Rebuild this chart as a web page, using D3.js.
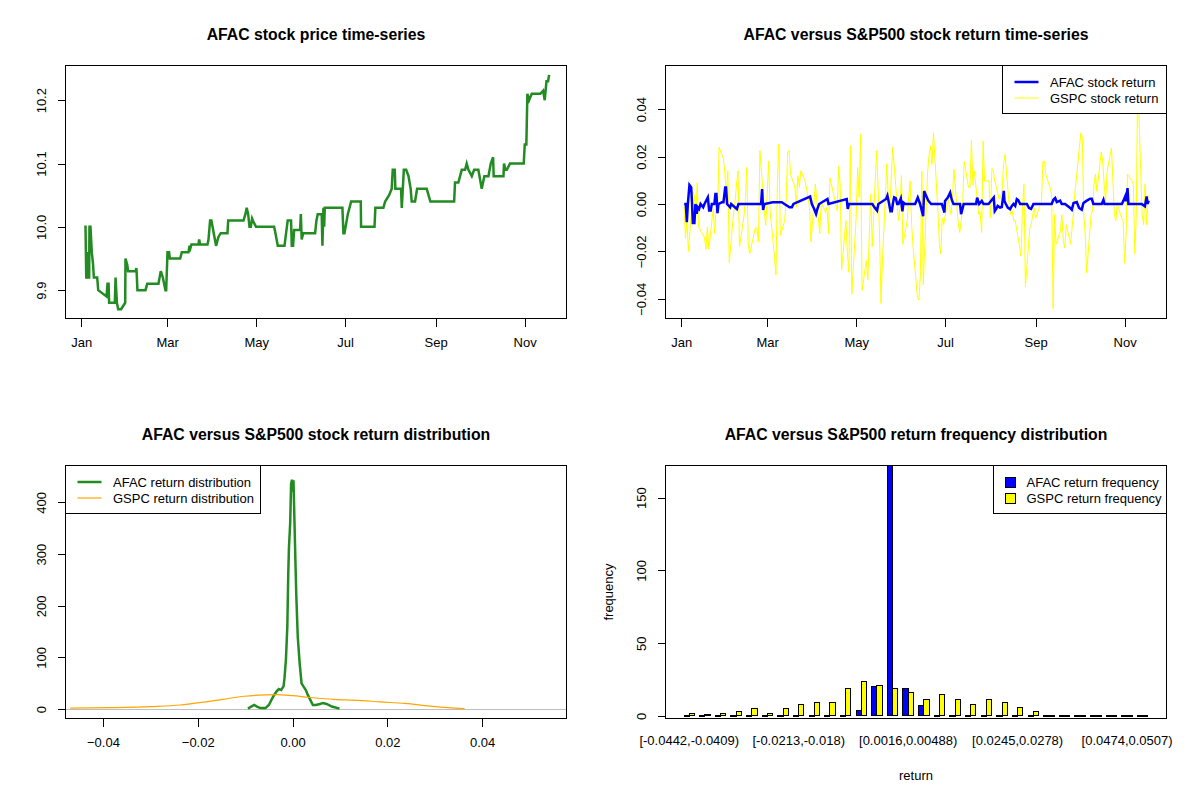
<!DOCTYPE html>
<html>
<head>
  <meta charset="utf-8">
  <script src="https://d3js.org/d3.v7.min.js"></script>
  <style>
    body { margin: 0; background: #ffffff; }
    svg text { font-family: "Liberation Sans", Arial, sans-serif; fill: #000; }
  </style>
</head>
<body>
<script>
"use strict";

// trading calendar used by the two time-series panels
var firstDay = "2017-01-03",
    lastDay = "2017-11-17",
    holidays = ["2017-01-16", "2017-02-20", "2017-04-14", "2017-05-29", "2017-07-04", "2017-09-04"];

// AFAC close price, corners of the line: [day of year (0 = 1 Jan), price]
var afacPrice = [
  [2.1, 10.00], [3.0, 10.00], [3.5, 9.92], [4.1, 9.92], [4.6, 9.96], [5.1, 9.92], [5.5, 9.92], [5.7, 10.00],
  [6.4, 10.00], [7.3, 9.96], [8.2, 9.94], [8.7, 9.92], [11.0, 9.92], [11.7, 9.90], [17.4, 9.89], [18.1, 9.91],
  [18.8, 9.91], [19.2, 9.88], [23.1, 9.88], [23.6, 9.92], [24.5, 9.88], [25.4, 9.87], [27.4, 9.87], [30.2, 9.88],
  [30.4, 9.95], [31.6, 9.94], [32.2, 9.93], [37.3, 9.93], [37.9, 9.935], [38.6, 9.90], [44.1, 9.90], [45.3, 9.91],
  [53.0, 9.91], [54.6, 9.93], [56.0, 9.92], [57.8, 9.90], [58.3, 9.90], [59.2, 9.96], [60.3, 9.96], [60.8, 9.95],
  [67.9, 9.95], [69.0, 9.96], [73.6, 9.96], [74.3, 9.97], [74.9, 9.966], [75.6, 9.972], [80.4, 9.972], [80.9, 9.98],
  [81.6, 9.972], [86.6, 9.972], [87.3, 9.98], [88.4, 10.01], [89.3, 10.01], [90.9, 9.99], [92.5, 9.97], [94.1, 9.984],
  [95.7, 9.99], [100.3, 9.99], [100.8, 10.01], [111.3, 10.01], [112.6, 10.02], [113.5, 10.03], [114.5, 10.02],
  [115.4, 10.00], [116.3, 10.00], [117.2, 10.013], [118.1, 10.008], [119.9, 10.00], [132.3, 10.00], [133.2, 9.99],
  [134.8, 9.97], [139.4, 9.97], [140.5, 9.99], [141.6, 10.01], [143.9, 10.01], [144.4, 9.97], [145.3, 9.97],
  [146.0, 9.995], [150.1, 9.995], [150.6, 10.02], [151.2, 9.98], [152.2, 9.99], [160.4, 9.99], [161.3, 10.01],
  [162.2, 10.02], [164.9, 10.02], [165.4, 9.97], [166.1, 10.03], [166.6, 10.00], [167.0, 10.03], [179.1, 10.03],
  [179.8, 9.99], [180.5, 9.99], [182.8, 10.02], [185.1, 10.04], [191.7, 10.04], [191.9, 10.00], [201.1, 10.00],
  [201.7, 10.03], [207.2, 10.03], [208.4, 10.04], [211.1, 10.05], [212.9, 10.06], [213.6, 10.09], [215.0, 10.09],
  [215.4, 10.06], [219.3, 10.06], [219.8, 10.03], [221.2, 10.09], [222.8, 10.09], [224.4, 10.08], [225.9, 10.06],
  [226.6, 10.04], [228.9, 10.04], [230.3, 10.06], [236.9, 10.06], [239.4, 10.04], [255.7, 10.04], [256.3, 10.07],
  [258.6, 10.07], [260.9, 10.09], [263.2, 10.09], [264.3, 10.10], [265.5, 10.09], [267.8, 10.08], [269.4, 10.09],
  [272.3, 10.09], [274.6, 10.06], [276.4, 10.08], [279.2, 10.08], [280.8, 10.10], [282.4, 10.11], [282.8, 10.08],
  [289.5, 10.08], [289.9, 10.10], [290.8, 10.09], [291.8, 10.09], [294.0, 10.10], [303.4, 10.10], [304.1, 10.13],
  [305.2, 10.13], [305.9, 10.21], [307.1, 10.20], [308.9, 10.21], [314.8, 10.21], [316.7, 10.215], [317.8, 10.20],
  [319.0, 10.23], [320.1, 10.23], [320.8, 10.24]
];

// AFAC daily return, corners of the line: [day of year, return]
var afacReturn = [
  [2.1, 0], [3.2, 0], [3.9, -0.0077], [4.6, 0], [5.7, 0.008], [6.9, 0.007], [7.5, 0], [8.0, -0.008], [9.1, -0.008],
  [9.8, 0], [10.7, -0.0042], [11.4, -0.0014], [12.3, -0.0021], [13.3, 0], [15.1, -0.0014], [16.0, 0], [18.3, 0.0028],
  [19.2, -0.0028], [20.3, -0.0028], [21.0, 0], [22.8, 0], [23.5, 0.0042], [24.2, 0.0042], [24.9, -0.0039], [25.6, 0],
  [27.9, 0.0007], [29.0, 0.0007], [30.2, 0.007], [30.8, 0.007], [31.5, 0], [33.6, -0.0014], [34.3, 0],
  [38.2, -0.0021], [39.3, 0], [54.8, 0], [55.5, 0.0063], [56.2, -0.0025], [57.1, 0], [62.8, 0.0007], [69.0, 0.0007],
  [70.8, 0], [74.3, -0.0014], [75.9, -0.0014], [77.0, 0], [88.4, 0.0031], [89.6, 0], [91.2, -0.0021],
  [92.5, -0.0042], [93.4, -0.0021], [94.6, 0], [100.3, 0.0021], [101.0, 0], [113.5, 0.0021], [114.2, -0.0021],
  [115.1, 0], [131.1, 0], [132.5, -0.0014], [134.3, -0.0028], [135.2, 0], [140.5, 0.0021], [141.4, 0.0035],
  [142.6, 0], [143.5, -0.0031], [144.4, -0.0031], [145.1, 0], [146.0, 0.0028], [147.1, 0.0025], [148.1, 0],
  [149.0, 0], [150.6, 0.0024], [151.7, -0.0031], [152.4, 0.0006], [153.6, 0], [160.4, 0], [162.2, 0.0027],
  [163.8, 0], [165.9, -0.0052], [166.6, 0.0055], [167.5, 0.0041], [169.5, 0.0013], [171.4, 0], [178.7, 0],
  [179.8, -0.0022], [180.5, -0.0036], [180.9, 0.0013], [182.8, 0.0027], [184.4, 0.0048], [185.5, 0.0018],
  [186.7, 0], [191.2, 0], [191.9, -0.0043], [192.8, -0.0022], [193.7, 0], [202.2, 0], [202.9, 0.0027], [204.3, 0],
  [206.1, 0.0013], [207.3, 0], [210.7, 0], [214.3, 0.0027], [215.0, -0.003], [215.9, -0.0022], [217.0, -0.0008],
  [218.6, -0.0015], [219.8, -0.0013], [221.2, 0.0055], [221.6, 0.0013], [222.6, 0], [223.9, -0.0015],
  [225.5, -0.0022], [226.7, -0.0008], [227.8, 0], [229.0, -0.0008], [230.1, 0.002], [231.2, 0.0015], [232.4, 0],
  [237.0, 0], [238.5, -0.0017], [239.9, -0.0021], [241.5, 0], [254.0, 0], [255.2, 0.0018], [256.4, 0.0025],
  [257.5, 0.0008], [259.8, 0.0014], [260.9, 0], [263.2, 0], [266.7, -0.0017], [267.8, -0.0024], [269.0, 0.0004],
  [271.2, 0.0008], [272.8, -0.0017], [274.6, -0.0024], [275.8, 0.0004], [278.1, 0.0014], [280.4, 0.0022],
  [281.5, 0.0022], [282.6, 0], [288.3, 0], [289.5, 0.0018], [290.2, 0], [302.1, 0], [303.2, 0.0014],
  [304.4, 0.0032], [305.0, 0.0011], [306.0, 0.0067], [306.6, 0], [315.7, 0], [317.9, -0.001], [319.1, 0.0032],
  [319.8, 0], [320.5, 0.0014]
];

// GSPC daily return, one value per trading day
var gspcReturn = [
  // Jan
  0.000, -0.0147, -0.007, -0.020, 0.005, 0.004, -0.0056, 0.009, -0.0098, -0.014, -0.019, -0.0098, -0.019, -0.002,
  -0.0126, -0.0007, -0.004, 0.024, 0.019, 0.0126,
  // Feb
  0.004, 0.014, -0.0246, -0.0035, 0.0014, 0.0084, 0.014, -0.018, -0.0056, 0.0014, 0.0154, -0.0168, -0.021, -0.0098,
  -0.011, -0.016, 0.0225, -0.0028, -0.009,
  // Mar
  0.004, 0.018, -0.0028, -0.0225, -0.030, 0.0098, 0.0253, -0.0133, -0.007, 0.0014, 0.0218, 0.0225, 0.0126, 0.007,
  -0.0014, 0.012, 0.007, 0.014, 0.0098, 0.0063, 0.0028, -0.0014, -0.016,
  // Apr
  0.0084, 0.0014, -0.0056, -0.0126, 0.0007, -0.0035, -0.0014, -0.0126, 0.011, 0.000, -0.0028, 0.016, 0.0084, -0.028,
  -0.007, -0.021, -0.0288, 0.0246, -0.038,
  // May
  -0.0056, 0.0154, 0.0028, 0.0295, -0.0365, -0.0239, -0.032, -0.0126, 0.0042, -0.018, 0.0225, 0.007, -0.0126, -0.042,
  -0.0239, 0.017, 0.002, -0.004, 0.011, 0.024, -0.007, -0.002,
  // Jun
  0.012, -0.017, -0.007, 0.003, 0.0097, -0.0086, -0.018, -0.0394, -0.0405, -0.030, 0.0139, -0.034, 0.0139, 0.021,
  0.0244, 0.0167, 0.030, -0.003, -0.0163, -0.021, -0.006, -0.0086,
  // Jul
  0.002, -0.0044, 0.0027, 0.0146, -0.0086, -0.012, -0.007, 0.000, 0.018, 0.007, 0.007, 0.027, 0.008, 0.0139, -0.0044,
  -0.0036, -0.012, 0.0265, 0.0097, 0.0097,
  // Aug
  -0.0058, 0.015, 0.0139, 0.0097, 0.002, 0.0027, 0.0055, 0.0167, 0.021, -0.0015, -0.0044, -0.003, -0.007, -0.007,
  -0.018, -0.022, -0.0015, 0.0083, -0.035, -0.010, -0.0087, -0.0045, -0.0017,
  // Sep
  -0.006, 0.001, 0.018, 0.018, 0.0123, 0.0067, 0.004, -0.0442, -0.0045, -0.017, -0.0114, -0.0045, -0.0157, -0.0185,
  -0.0087, -0.017, -0.010, -0.003, 0.0053, 0.011,
  // Oct
  0.030, 0.028, -0.0045, -0.013, -0.029, -0.0045, -0.003, 0.0083, 0.0125, 0.0053, 0.022, 0.018, 0.0083, 0.001, 0.0139,
  0.0237, 0.0095, -0.0045, -0.007, 0.000, -0.006, -0.007,
  // Nov
  -0.025, -0.013, 0.0125, 0.0097, 0.0083, -0.021, -0.0045, 0.054, -0.0045, -0.0087, 0.0083, -0.0087, 0.004
];

// kernel density estimates: [return, density]
var afacDensity = [
  [-0.0094, 1], [-0.0087, 5], [-0.0081, 8], [-0.0075, 5], [-0.0068, 2], [-0.0057, 2], [-0.005, 8], [-0.0041, 24],
  [-0.0034, 34], [-0.0029, 39], [-0.0024, 37], [-0.0019, 44], [-0.0017, 60], [-0.0014, 95], [-0.0011, 160],
  [-0.0009, 263], [-0.00075, 314], [-0.0005, 359], [-0.0003, 437], [-0.0001, 444], [0.0001, 421], [0.0002, 443],
  [0.0004, 366], [0.0006, 289], [0.0008, 218], [0.0011, 140], [0.0015, 89], [0.0019, 50], [0.0023, 44],
  [0.0028, 37], [0.0032, 28], [0.0038, 17], [0.0043, 8], [0.0049, 8], [0.0058, 10], [0.0064, 12], [0.0072, 10],
  [0.0083, 5], [0.0099, 1]
];
var gspcDensity = [
  [-0.0469, 2], [-0.038, 3], [-0.0298, 5], [-0.0237, 8], [-0.0192, 13], [-0.0147, 19], [-0.0102, 25],
  [-0.0072, 27], [-0.0034, 28], [0.0, 26], [0.0034, 23], [0.0087, 19], [0.0139, 17], [0.0185, 14], [0.0237, 11],
  [0.029, 6], [0.0328, 3], [0.0363, 1]
];

// return frequency per bin (30 bins)
var afacFreq = [0, 0, 0, 0, 0, 0, 0, 0, 0, 0, 0, 4, 20, 172, 19, 7, 0, 0, 0, 0, 0, 0, 0, 0, 0, 0, 0, 0, 0, 0];
var gspcFreq = [2, 1, 2, 3, 5, 2, 5, 8, 9, 9, 19, 24, 21, 19, 16, 11, 15, 11, 8, 11, 9, 6, 3, 0, 0, 0, 0, 0, 0, 0];
var binTickIndex = [0, 7, 14, 21, 28];
var binTickLabels = ["[-0.0442,-0.0409)", "[-0.0213,-0.018)", "[0.0016,0.00488)", "[0.0245,0.0278)", "[0.0474,0.0507)"];

var titles = ["AFAC stock price time-series",
              "AFAC versus S&P500 stock return time-series",
              "AFAC versus S&P500 stock return distribution",
              "AFAC versus S&P500 return frequency distribution"];

/*
  layout: 2 x 2 panels of 600 x 400, same plot box in each
*/
var box = { left: 65.5, right: 566.5, top: 65.5, bottom: 318.5 };
var colors = { price: "#228b22", afac: "#0000ff", gspc: "#ffff00", orange: "#ffa500", zero: "#bebebe" };

var svg = d3.select("body").append("svg")
    .attr("width", 1200)
    .attr("height", 800);

function panel(col, row, title) {
  var g = svg.append("g")
      .attr("transform", "translate(" + col * 600 + "," + row * 400 + ")");
  g.append("text")
      .attr("x", (box.left + box.right) / 2)
      .attr("y", 40)
      .attr("text-anchor", "middle")
      .style("font-size", "15.8px")
      .style("font-weight", "bold")
      .text(title);
  return g;
}

function frame(g) {
  g.append("rect")
      .attr("x", box.left).attr("y", box.top)
      .attr("width", box.right - box.left).attr("height", box.bottom - box.top)
      .attr("fill", "none").attr("stroke", "#000").attr("stroke-width", 1)
      .attr("shape-rendering", "crispEdges");
}

function styleAxis(a) {
  a.attr("font-size", 13).attr("font-family", null);
  a.select(".domain").remove();
  a.selectAll(".tick line").attr("shape-rendering", "crispEdges");
}

function bottomAxis(g, axis) {
  var a = g.append("g")
      .attr("transform", "translate(0," + box.bottom + ")")
      .call(axis.tickSize(8).tickSizeOuter(0).tickPadding(11));
  styleAxis(a);
}

function leftAxis(g, axis) {
  var a = g.append("g")
      .attr("transform", "translate(" + box.left + ",0)")
      .call(axis.tickSize(8).tickSizeOuter(0));
  styleAxis(a);
  // R draws y labels parallel to the axis
  a.selectAll(".tick text")
      .attr("x", null).attr("dy", null)
      .attr("text-anchor", "middle")
      .attr("transform", "translate(-20,0) rotate(-90)");
}

// legend box hanging from the top of the plot box, from x0 to x1
function legend(g, x0, x1, rows) {
  var lg = g.append("g");
  lg.append("rect")
      .attr("x", x0).attr("y", box.top)
      .attr("width", x1 - x0).attr("height", 48)
      .attr("fill", "#fff").attr("stroke", "#000")
      .attr("shape-rendering", "crispEdges");
  rows.forEach(function (r, i) {
    var cy = box.top + 16.5 + i * 16;
    if (r.fill) {
      lg.append("rect")
          .attr("x", x0 + 12).attr("y", cy - 4.5).attr("width", 10).attr("height", 9.5)
          .attr("fill", r.fill).attr("stroke", "#000")
          .attr("shape-rendering", "crispEdges");
    } else {
      lg.append("line")
          .attr("x1", x0 + 12).attr("x2", x0 + 36).attr("y1", cy).attr("y2", cy)
          .attr("stroke", r.stroke).attr("stroke-width", r.width);
    }
    lg.append("text")
        .attr("x", x0 + (r.fill ? 33 : 47.5))
        .attr("y", cy + 4.6)
        .style("font-size", "13px")
        .text(r.label);
  });
}

// calendar helpers
var parseDay = d3.utcParse("%Y-%m-%d"),
    fmtDay = d3.utcFormat("%Y-%m-%d"),
    yearStart = Date.UTC(2017, 0, 1);
function dayToDate(d) { return new Date(yearStart + d * 864e5); }

var tradingDays = d3.utcDays(parseDay(firstDay), d3.utcDay.offset(parseDay(lastDay), 1))
    .filter(function (d) {
      var w = d.getUTCDay();
      return w !== 0 && w !== 6 && holidays.indexOf(fmtDay(d)) < 0;
    });
var gspcSeries = gspcReturn.slice(0, tradingDays.length).map(function (v, i) {
  return { date: tradingDays[i], value: v };
});

var t0 = tradingDays[0], t1 = tradingDays[tradingDays.length - 1], pad = 0.04 * (t1 - t0);
var xTime = d3.scaleUtc()
    .domain([new Date(+t0 - pad), new Date(+t1 + pad)])
    .range([box.left, box.right]);
var monthTicks = d3.utcMonth.every(2).range(xTime.domain()[0], xTime.domain()[1]);

/*
  panel 1: price
*/
var p1 = panel(0, 0, titles[0]);
var yPrice = d3.scaleLinear().domain([9.8552, 10.2548]).range([box.bottom, box.top]);
p1.append("path")
    .datum(afacPrice)
    .attr("fill", "none")
    .attr("stroke", colors.price)
    .attr("stroke-width", 2.5)
    .attr("d", d3.line()
        .x(function (d) { return xTime(dayToDate(d[0])); })
        .y(function (d) { return yPrice(d[1]); }));
frame(p1);
bottomAxis(p1, d3.axisBottom(xTime).tickValues(monthTicks).tickFormat(d3.utcFormat("%b")));
leftAxis(p1, d3.axisLeft(yPrice).ticks(4).tickFormat(d3.format(".1f")));

/*
  panel 2: returns
*/
var p2 = panel(1, 0, titles[1]);
var yRet = d3.scaleLinear().domain([-0.0483, 0.0584]).range([box.bottom, box.top]);
p2.append("path")
    .datum(gspcSeries)
    .attr("fill", "none")
    .attr("stroke", colors.gspc)
    .attr("stroke-width", 1)
    .attr("d", d3.line()
        .x(function (d) { return xTime(d.date); })
        .y(function (d) { return yRet(d.value); }));
p2.append("path")
    .datum(afacReturn)
    .attr("fill", "none")
    .attr("stroke", colors.afac)
    .attr("stroke-width", 2.5)
    .attr("d", d3.line()
        .x(function (d) { return xTime(dayToDate(d[0])); })
        .y(function (d) { return yRet(d[1]); }));
frame(p2);
bottomAxis(p2, d3.axisBottom(xTime).tickValues(monthTicks).tickFormat(d3.utcFormat("%b")));
leftAxis(p2, d3.axisLeft(yRet).ticks(5).tickFormat(d3.format(".2f")));
legend(p2, 402.5, box.right, [
  { label: "AFAC stock return", stroke: colors.afac, width: 2.5 },
  { label: "GSPC stock return", stroke: colors.gspc, width: 1 }
]);

/*
  panel 3: densities
*/
var p3 = panel(0, 1, titles[2]);
var xDens = d3.scaleLinear().domain([-0.0479, 0.0578]).range([box.left, box.right]);
var yDens = d3.scaleLinear().domain([-18.1, 471.5]).range([box.bottom, box.top]);
p3.append("line")
    .attr("x1", box.left).attr("x2", box.right)
    .attr("y1", yDens(0)).attr("y2", yDens(0))
    .attr("stroke", colors.zero).attr("stroke-width", 1)
    .attr("shape-rendering", "crispEdges");
p3.append("path")
    .datum(afacDensity)
    .attr("fill", "none")
    .attr("stroke", colors.price)
    .attr("stroke-width", 2.5)
    .attr("d", d3.line()
        .x(function (d) { return xDens(d[0]); })
        .y(function (d) { return yDens(d[1]); }));
p3.append("path")
    .datum(gspcDensity)
    .attr("fill", "none")
    .attr("stroke", colors.orange)
    .attr("stroke-width", 1.2)
    .attr("d", d3.line()
        .curve(d3.curveMonotoneX)
        .x(function (d) { return xDens(d[0]); })
        .y(function (d) { return yDens(d[1]); }));
frame(p3);
bottomAxis(p3, d3.axisBottom(xDens).ticks(5).tickFormat(d3.format(".2f")));
leftAxis(p3, d3.axisLeft(yDens).ticks(5).tickFormat(d3.format("d")));
legend(p3, box.left, 260.5, [
  { label: "AFAC return distribution", stroke: colors.price, width: 2.5 },
  { label: "GSPC return distribution", stroke: colors.orange, width: 1.2 }
]);

/*
  panel 4: grouped histogram
*/
var p4 = panel(1, 1, titles[3]);
var nBins = afacFreq.length;
// bars of width 1, group gap 1, R style 4% padding
var barMin = 1, barMax = 3 * nBins, barPad = 0.04 * (barMax - barMin);
var xBar = d3.scaleLinear().domain([barMin - barPad, barMax + barPad]).range([box.left, box.right]);
var yFreq = d3.scaleLinear().domain([-1.72, 172]).range([box.bottom, box.top]);

var bars = [];
afacFreq.forEach(function (v, k) { bars.push({ x: 1 + 3 * k, v: v, fill: colors.afac }); });
gspcFreq.forEach(function (v, k) { bars.push({ x: 2 + 3 * k, v: v, fill: colors.gspc }); });

p4.append("g").selectAll("rect")
    .data(bars)
    .enter()
    .append("rect")
    .attr("x", function (d) { return xBar(d.x); })
    .attr("width", function (d) { return xBar(d.x + 1) - xBar(d.x); })
    .attr("y", function (d) { return yFreq(d.v); })
    .attr("height", function (d) { return Math.max(0.01, yFreq(0) - yFreq(d.v)); })
    .attr("fill", function (d) { return d.fill; })
    .attr("stroke", "#000")
    .attr("stroke-width", 1)
    .attr("shape-rendering", "crispEdges");
frame(p4);
leftAxis(p4, d3.axisLeft(yFreq).ticks(4).tickFormat(d3.format("d")));

p4.selectAll("text.binlabel")
    .data(binTickIndex)
    .enter()
    .append("text")
    .attr("class", "binlabel")
    .attr("x", function (k) { return xBar(2 + 3 * k); })
    .attr("y", 345)
    .attr("text-anchor", "middle")
    .style("font-size", "13px")
    .text(function (k, i) { return binTickLabels[i]; });

p4.append("text")
    .attr("x", (box.left + box.right) / 2)
    .attr("y", 380)
    .attr("text-anchor", "middle")
    .style("font-size", "13px")
    .text("return");
p4.append("text")
    .attr("transform", "translate(12.5," + (box.top + box.bottom) / 2 + ") rotate(-90)")
    .attr("text-anchor", "middle")
    .style("font-size", "13px")
    .text("frequency");

legend(p4, 393.5, box.right, [
  { label: "AFAC return frequency", fill: colors.afac },
  { label: "GSPC return frequency", fill: colors.gspc }
]);
</script>
</body>
</html>
